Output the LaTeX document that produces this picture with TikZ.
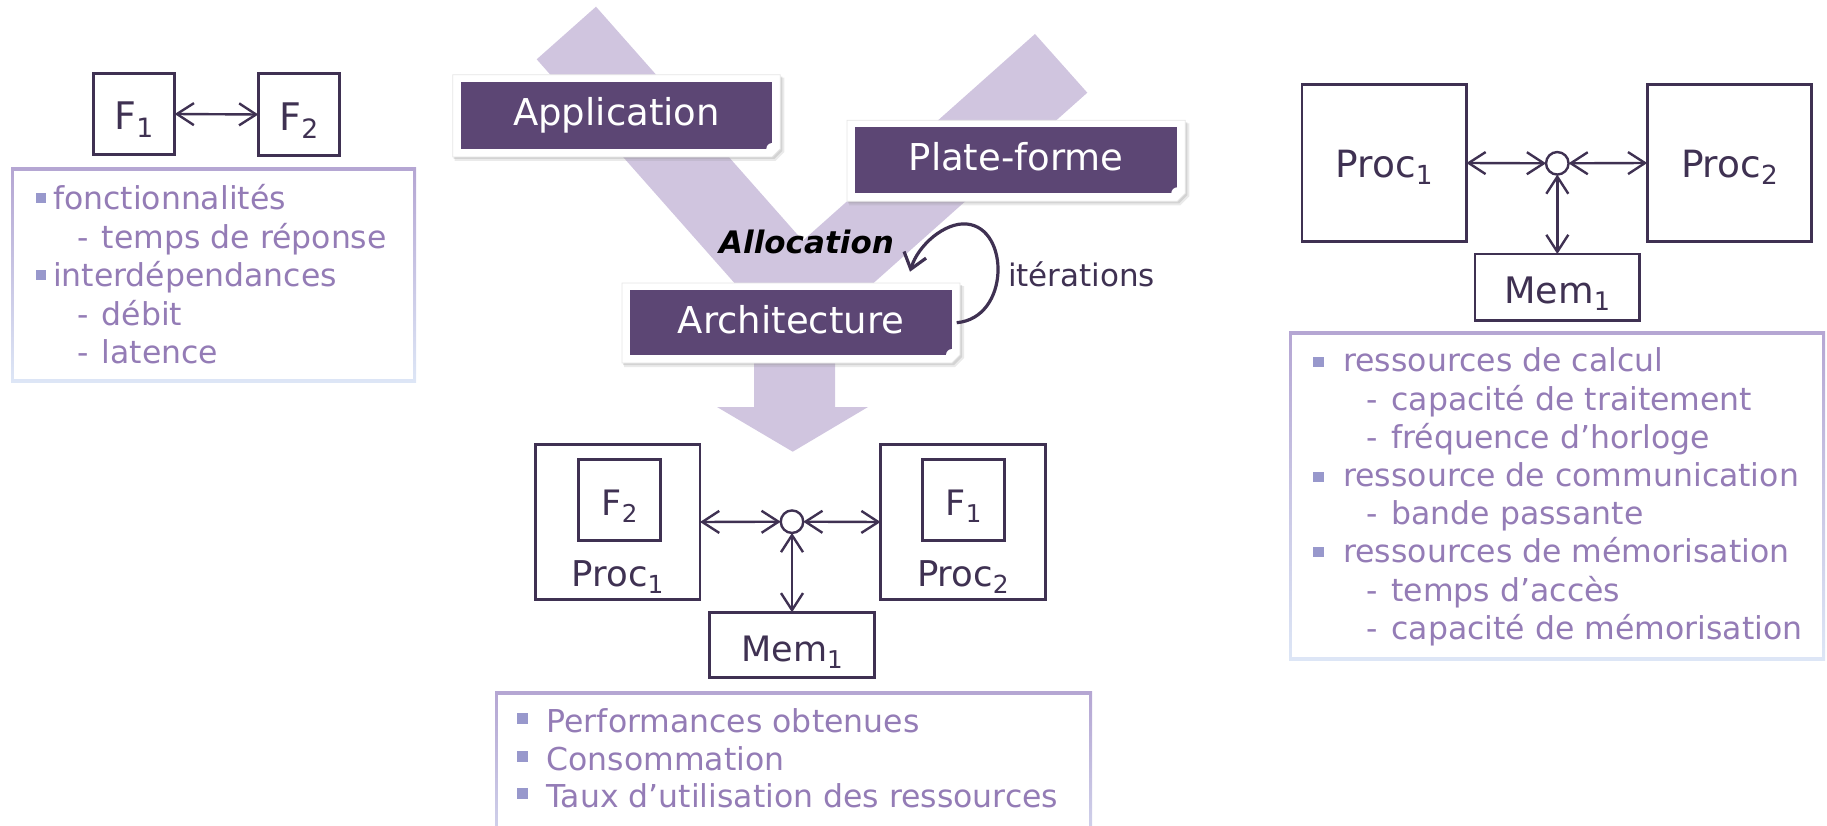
\documentclass[tikz,border=0pt]{standalone}
\usepackage{graphicx}
\usepackage{fontspec}
\setmainfont{DejaVu Sans}
\usetikzlibrary{arrows.meta}

\definecolor{vband}{RGB}{208,197,223}
\definecolor{pfill}{RGB}{92,70,116}
\definecolor{dline}{RGB}{63,49,82}
\definecolor{ltext}{RGB}{148,124,182}
\definecolor{lbullet}{RGB}{152,152,204}
\definecolor{lbtop}{RGB}{181,166,211}
\definecolor{lbbot}{RGB}{221,230,246}

% lowered, reduced index digit
\newcommand\idx[1]{\raisebox{-0.2em}{\scalebox{0.7}{#1}}}

% white card with a shadow and a purple label box inside
% #1 name, #2 x1, #3 y1, #4 x2, #5 y2 (purple area), #6 text
\newcommand\purplebox[6]{%
  \fill[black!45, opacity=.18] ({#2-6},{#3-4}) -- ({#4+12},{#3-4}) -- ({#4+12},{#5+3}) -- ({#4+3},{#5+12}) -- ({#2-6},{#5+12}) -- cycle;
  \fill[black!45, opacity=.25] ({#2-7},{#3-5}) -- ({#4+10},{#3-5}) -- ({#4+10},{#5+2}) -- ({#4+2},{#5+10}) -- ({#2-7},{#5+10}) -- cycle;
  \filldraw[fill=white, draw=black!10, line width=.8pt] ({#2-8},{#3-7}) -- ({#4+8},{#3-7}) -- ({#4+8},{#5}) -- ({#4},{#5+8}) -- ({#2-8},{#5+8}) -- cycle;
  \node[pbox, minimum width={#4-#2}, minimum height={#5-#3}] (#1) at ({(#2+#4)/2},{(#3+#5)/2}) {#6};
  \fill[white] (#4,#5) -- ++(-6,0) arc[start angle=180, end angle=90, radius=6pt] -- cycle;
}

% frame of a bullet list, purple at the top fading to pale blue
\newcommand\listframe[4]{%
  \shade[top color=lbtop, bottom color=lbbot] (#1,#2) rectangle (#3,#4);
  \fill[white] ({#1+3},{#2+3}) rectangle ({#3-3},{#4-3});
}

\begin{document}
\begin{tikzpicture}[x=1pt, y=-1pt,
  every node/.style={inner sep=0pt, outer sep=0pt},
  obarb/.tip={Straight Barb[length=17pt, width=22pt]},
  blk/.style={draw=dline, line width=2.6pt, text=dline, fill=white},
  biarrow/.style={draw=dline, line width=2.4pt, obarb-obarb},
  pbox/.style={fill=pfill, text=white, font=\fontsize{37}{44}\selectfont,
    text height=21pt, text depth=0pt},
  ltxt/.style={text=ltext, font=\fontsize{31.5}{38}\selectfont, anchor=base west},
  lbl/.style={text=dline},
  hub/.style={circle, draw=dline, line width=2.4pt, fill=white, minimum size=22.5}
]
\useasboundingbox (0,0) rectangle (1827,826);
\clip (0,0) rectangle (1827,826);

% ---------- left: functions ----------
\node[blk, minimum width=81.4, minimum height=81.4, text height=32pt, text depth=0pt,
  font=\fontsize{38}{44}\selectfont] (f1l) at (134,114) {F\idx{1}};
\node[blk, minimum width=81.4, minimum height=82, text height=32pt, text depth=0pt,
  font=\fontsize{38}{44}\selectfont] (f2l) at (299,114.5) {F\idx{2}};
\draw[biarrow] (f1l.east) -- (f2l.west);

\listframe{11}{168}{416}{382}
\fill[lbullet] (36,193) rectangle (46,203);
\fill[lbullet] (36,270) rectangle (46,280);
\node[ltxt] (la) at (53,210) {fonctionnalités};
\node[ltxt] (lb) at (77,248) {-\hspace{13.5pt}temps de réponse};
\node[ltxt] (lc) at (53,287) {interdépendances};
\node[ltxt] (ld) at (77,325) {-\hspace{13.5pt}débit};
\node[ltxt] (le) at (77,363) {-\hspace{13.5pt}latence};

% ---------- centre: the V flow ----------
\fill[vband] (536.7,59.3) -- (596,6.7) -- (802.8,240.7) -- (1035,34) -- (1087.3,92.7) -- (795.7,352.3) -- cycle;
\fill[vband] (754,340) -- (835,340) -- (835,407) -- (868,407) -- (792.7,451.7) -- (717,407) -- (754,407) -- cycle;

\purplebox{app}{460.7}{81.7}{772.3}{149}{Application}
\purplebox{plat}{855}{127.3}{1177.3}{193.3}{Plate-forme}
\purplebox{arch}{630}{290}{952}{355}{Architecture}

\node[anchor=base, font=\fontsize{31}{37}\selectfont\bfseries\itshape] (alloc) at (806.5,254) {Allocation};
\coordinate (itstart) at (956.7,322.7);
\coordinate (itend) at (910,271.7);
\draw[dline, line width=3.2pt, -{Straight Barb[length=15pt, width=23pt]}]
  (itstart) .. controls (1010,318) and (1010,228) .. (966.7,224)
            .. controls (945,222) and (918,245) .. (itend);
\node[anchor=base west, text=dline, font=\fontsize{31}{37}\selectfont] (iter) at (1008,286.7) {itérations};

% ---------- centre: mapped architecture ----------
\node[blk, minimum width=164.7, minimum height=154.8] (p1m) at (617.7,522) {};
\node[blk, minimum width=81.7, minimum height=80.8, text height=30pt, text depth=0pt,
  font=\fontsize{35}{42}\selectfont] (f2m) at (619.5,500) {F\idx{2}};
\node[lbl, anchor=base, font=\fontsize{35.5}{42}\selectfont] (p1mt) at (617.5,586.7) {Proc\idx{1}};

\node[blk, minimum width=164.7, minimum height=154.8] (p2m) at (962.9,522) {};
\node[blk, minimum width=81.7, minimum height=80.8, text height=30pt, text depth=0pt,
  font=\fontsize{35}{42}\selectfont] (f1m) at (963.6,500) {F\idx{1}};
\node[lbl, anchor=base, font=\fontsize{35.5}{42}\selectfont] (p2mt) at (962.9,586.7) {Proc\idx{2}};

\node[hub] (cm) at (792,521.7) {};
\node[blk, minimum width=164.8, minimum height=65.4, text height=32pt, text depth=0pt,
  font=\fontsize{35}{42}\selectfont] (m1m) at (792,645) {Mem\idx{1}};
\draw[biarrow] (p1m.east) -- (cm.west);
\draw[biarrow] (cm.east) -- (p2m.west);
\draw[biarrow] (cm.south) -- (m1m.north);

\listframe{495}{691.7}{1092}{900}
\fill[lbullet] (517,713.3) rectangle (528,724.3);
\fill[lbullet] (517,751) rectangle (528,762);
\fill[lbullet] (517,788.3) rectangle (528,799.3);
\node[ltxt] (ma) at (546.7,732.3) {Performances obtenues};
\node[ltxt] (mb) at (546.7,770) {Consommation};
\node[ltxt] (mc) at (546.7,807.3) {Taux d’utilisation des ressources};

% ---------- right: platform ----------
\node[blk, minimum width=164.4, minimum height=156.8, text height=28.6pt, text depth=0pt,
  font=\fontsize{37.5}{44}\selectfont] (p1r) at (1384.2,163) {Proc\idx{1}};
\node[blk, minimum width=164.4, minimum height=156.8, text height=28.6pt, text depth=0pt,
  font=\fontsize{37.5}{44}\selectfont] (p2r) at (1729.4,163) {Proc\idx{2}};
\node[hub] (cr) at (1557.3,163.3) {};
\node[blk, minimum width=164.8, minimum height=66.4, text height=32.2pt, text depth=0pt,
  font=\fontsize{36.5}{44}\selectfont] (m1r) at (1557.3,287.2) {Mem\idx{1}};
\draw[biarrow] (p1r.east) -- (cr.west);
\draw[biarrow] (cr.east) -- (p2r.west);
\draw[biarrow] (cr.south) -- (m1r.north);

\listframe{1289}{331.7}{1825}{660}
\fill[lbullet] (1313.3,356.7) rectangle (1324,366.7);
\fill[lbullet] (1313.3,471.7) rectangle (1324,481.7);
\fill[lbullet] (1313.3,547.3) rectangle (1324,557.3);
\node[ltxt] (ra) at (1343.3,371.7) {ressources de calcul};
\node[ltxt] (rb) at (1366.7,410) {-\hspace{13.5pt}capacité de traitement};
\node[ltxt] (rc) at (1366.7,448.3) {-\hspace{13.5pt}fréquence d’horloge};
\node[ltxt] (rd) at (1343.3,486.7) {ressource de communication};
\node[ltxt] (re) at (1366.7,524) {-\hspace{13.5pt}bande passante};
\node[ltxt] (rf) at (1343.3,562.3) {ressources de mémorisation};
\node[ltxt] (rg) at (1366.7,601) {-\hspace{13.5pt}temps d’accès};
\node[ltxt] (rh) at (1366.7,639.3) {-\hspace{13.5pt}capacité de mémorisation};
\end{tikzpicture}
\end{document}
